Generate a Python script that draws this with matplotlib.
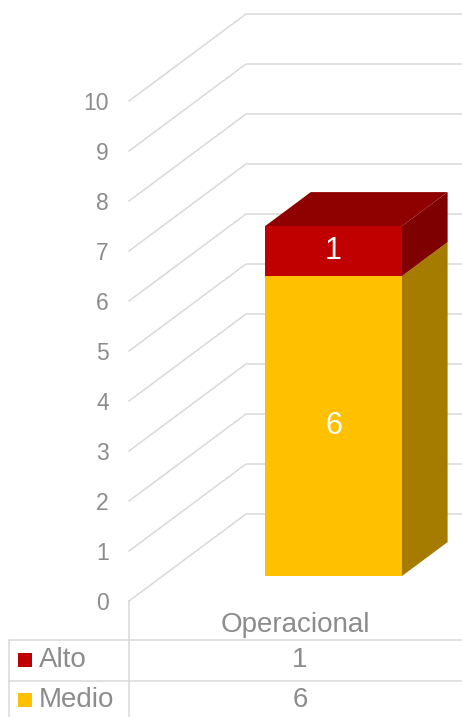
import numpy as np
import matplotlib
matplotlib.use("Agg")
import matplotlib.pyplot as plt
from matplotlib.patches import Polygon
from matplotlib.transforms import IdentityTransform, ScaledTranslation

plt.rcParams['font.family'] = ['Liberation Sans', 'DejaVu Sans']

categories = ['Operacional']
series_names = ['Medio', 'Alto']
medio = [6]
alto = [1]
yticks = list(range(0, 11))

W, H = 462, 717
fig = plt.figure(figsize=(W / 100, H / 100), dpi=100)
ax = fig.add_axes([129 / W, 116 / H, (471 - 129) / W, 500 / H])
ax.set_autoscale_on(False)
ax.set_xlim(-0.5, 0.5)
ax.set_ylim(0, 10)
for s in ax.spines.values():
    s.set_visible(False)
ax.set_facecolor('none')

grid_c = '#D9D9D9'
text_c = '#8C8C8C'
ID = IdentityTransform()
D = np.array([117.0, 87.0])  # floor depth in pixels

# y ticks
ax.set_yticks(yticks)
ax.set_yticklabels([str(v) for v in yticks], fontsize=16.5, color=text_c)
ax.set_xticks(range(len(categories)))
ax.set_xticklabels(categories, fontsize=20, color=text_c)
ax.tick_params(axis='y', length=0, pad=14.5)
ax.tick_params(axis='x', length=0, pad=8)
for lbl in ax.get_xticklabels():
    lbl.set_transform(lbl.get_transform() + ScaledTranslation(-5 / 100, 0, fig.dpi_scale_trans))

def P(x, v, depth):
    p = ax.transData.transform((x, v))
    return p + depth * D

# gridlines: diagonal on left side wall + horizontal on back wall
for v in yticks:
    p0 = P(-0.5, v, 0)
    p1 = P(-0.5, v, 1)
    ax.plot([p0[0], p1[0], W + 20], [p0[1], p1[1], p1[1]], color=grid_c, lw=1.1,
            transform=ID, clip_on=False, zorder=1)

# bars
bw = 0.40
f, d = 0.287, 0.39
series = [(medio, '#FFC000', '#A67C00', '#B38600'), (alto, '#C00000', '#7F0000', '#8F0000')]
for i, cat in enumerate(categories):
    bottom = 0
    for k, (vals, cf, cs, ct) in enumerate(series):
        top = bottom + vals[i]
        x0, x1 = i - bw / 2, i + bw / 2
        front = [P(x0, bottom, f), P(x1, bottom, f), P(x1, top, f), P(x0, top, f)]
        side = [P(x1, bottom, f), P(x1, bottom, f + d), P(x1, top, f + d), P(x1, top, f)]
        ax.add_patch(Polygon(side, closed=True, facecolor=cs, edgecolor='none',
                             transform=ID, clip_on=False, zorder=3))
        if k == len(series) - 1:
            topf = [P(x0, top, f), P(x1, top, f), P(x1, top, f + d), P(x0, top, f + d)]
            ax.add_patch(Polygon(topf, closed=True, facecolor=ct, edgecolor='none',
                                 transform=ID, clip_on=False, zorder=3))
        ax.add_patch(Polygon(front, closed=True, facecolor=cf, edgecolor='none',
                             transform=ID, clip_on=False, zorder=4))
        c = P(i, (bottom + top) / 2, f)
        ax.text(c[0], c[1], str(vals[i]), color='white', fontsize=22,
                ha='center', va='center', transform=ID, zorder=5)
        bottom = top

# data table
def hline(y, x0, x1):
    ax.plot([x0, x1], [H - y, H - y], color=grid_c, lw=1.1, transform=ID, clip_on=False, zorder=1)

def vline(x, y0, y1):
    ax.plot([x, x], [H - y0, H - y1], color=grid_c, lw=1.1, transform=ID, clip_on=False, zorder=1)

hline(640, 9, W + 5)
hline(680.5, 9, W + 5)
vline(9, 640, H + 5)
vline(129, 601, H + 5)

rows = [('Alto', alto, '#C00000', 660), ('Medio', medio, '#FFC000', 700)]
for name, vals, col, yc in rows:
    ax.add_patch(Polygon([(18, H - yc + 7), (32, H - yc + 7), (32, H - yc - 7), (18, H - yc - 7)],
                         closed=True, facecolor=col, edgecolor='none', transform=ID, clip_on=False))
    ax.text(38.5, H - yc, name, fontsize=20, color=text_c, ha='left', va='center', transform=ID)
    for i, v in enumerate(vals):
        px = ax.transData.transform((i, 0))[0]
        ax.text(px, H - yc, str(v), fontsize=20, color=text_c, ha='center', va='center', transform=ID)

fig.savefig('out.png', dpi=100)
